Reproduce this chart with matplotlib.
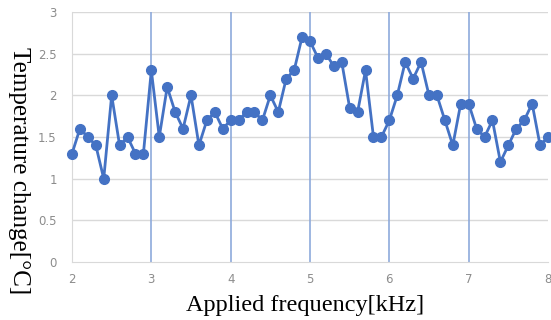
import matplotlib
matplotlib.use('Agg')
import matplotlib.pyplot as plt

freq_khz = [2.0, 2.1, 2.2, 2.3, 2.4, 2.5, 2.6, 2.7, 2.8, 2.9,
            3.0, 3.1, 3.2, 3.3, 3.4, 3.5, 3.6, 3.7, 3.8, 3.9,
            4.0, 4.1, 4.2, 4.3, 4.4, 4.5, 4.6, 4.7, 4.8, 4.9,
            5.0, 5.1, 5.2, 5.3, 5.4, 5.5, 5.6, 5.7, 5.8, 5.9,
            6.0, 6.1, 6.2, 6.3, 6.4, 6.5, 6.6, 6.7, 6.8, 6.9,
            7.0, 7.1, 7.2, 7.3, 7.4, 7.5, 7.6, 7.7, 7.8, 7.9,
            8.0]
temp_change = [1.3, 1.6, 1.5, 1.4, 1.0, 2.0, 1.4, 1.5, 1.3, 1.3,
               2.3, 1.5, 2.1, 1.8, 1.6, 2.0, 1.4, 1.7, 1.8, 1.6,
               1.7, 1.7, 1.8, 1.8, 1.7, 2.0, 1.8, 2.2, 2.3, 2.7,
               2.65, 2.45, 2.5, 2.35, 2.4, 1.85, 1.8, 2.3, 1.5, 1.5,
               1.7, 2.0, 2.4, 2.2, 2.4, 2.0, 2.0, 1.7, 1.4, 1.9,
               1.9, 1.6, 1.5, 1.7, 1.2, 1.4, 1.6, 1.7, 1.9, 1.4,
               1.5]
x_ticks = [2, 3, 4, 5, 6, 7, 8]
y_ticks = [0, 0.5, 1, 1.5, 2, 2.5, 3]
y_tick_labels = ['0', '0.5', '1', '1.5', '2', '2.5', '3']

W, H = 551, 320
fig = plt.figure(figsize=(W / 100, H / 100), dpi=100)
ax = fig.add_axes([72 / W, 1 - 262 / H, 476 / W, 250 / H])

# light horizontal grid, blue vertical lines at integer kHz
for yv in y_ticks[1:]:
    ax.axhline(yv, color='#d9d9d9', lw=1, zorder=0)
for xv in x_ticks[1:-1]:
    ax.axvline(xv, color='#8eaadb', lw=1.2, zorder=1)

ax.plot(freq_khz, temp_change, color='#4472c4', lw=2, marker='o',
        markersize=7, zorder=3, clip_on=False)

ax.set_xlim(2, 8)
ax.set_ylim(0, 3)
ax.set_xticks(x_ticks)
ax.set_yticks(y_ticks)
ax.set_yticklabels(y_tick_labels)
ax.tick_params(length=0, labelsize=8.5, colors='#8c8c8c')
ax.tick_params(axis='x', pad=8)
ax.tick_params(axis='y', pad=11)

for side in ['top', 'right']:
    ax.spines[side].set_visible(False)
ax.spines['left'].set_color('#d9d9d9')
ax.spines['bottom'].set_color('#d9d9d9')

fig.text(305 / W, 1 - 305 / H, 'Applied frequency[kHz]', family='Liberation Serif',
         fontsize=17.5, ha='center', va='center')
fig.text(19 / W, 1 - 171 / H, 'Temperature change[\u00b0C]', family='Liberation Serif',
         fontsize=18, rotation=270, ha='center', va='center')

fig.savefig('out.png', dpi=100)
